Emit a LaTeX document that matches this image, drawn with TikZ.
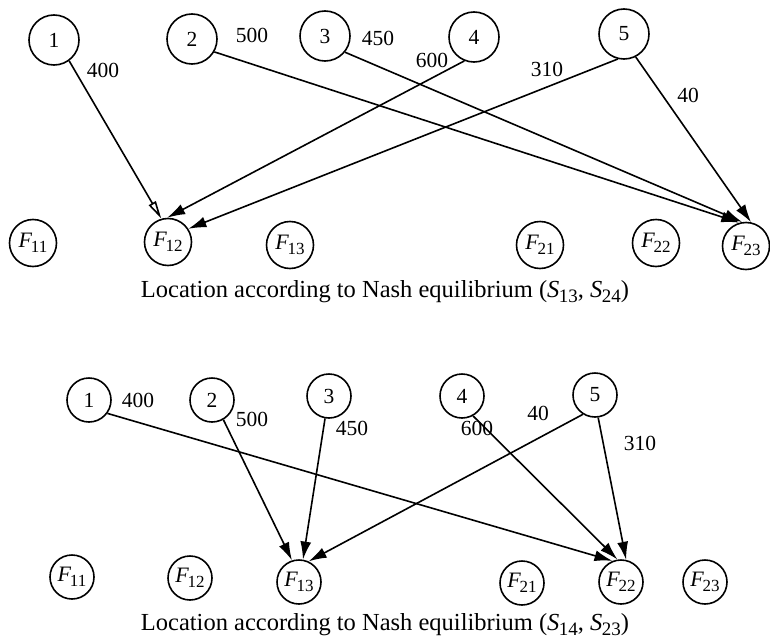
\documentclass[tikz,border=0pt]{standalone}
\usepackage{fontspec}
\setmainfont{Liberation Serif}
\usetikzlibrary{arrows.meta}
\newcommand\Fsub[1]{\textit{F}\kern-0.06em\raisebox{-0.45ex}{\fontsize{17}{17}\selectfont #1}}
\newcommand\Ssub[1]{\textit{S}\kern-0.02em\raisebox{-0.45ex}{\fontsize{19}{19}\selectfont #1}}
\begin{document}
\begin{tikzpicture}[x=1pt,y=-1pt,
 num/.style={circle,draw,line width=1.6pt,inner sep=0pt,minimum size=50pt,font=\fontsize{21.5}{23}\selectfont},
 numb/.style={num,minimum size=44pt},
 fac/.style={circle,draw,line width=1.6pt,inner sep=0pt,minimum size=47pt,font=\fontsize{22}{23}\selectfont},
 facb/.style={fac,minimum size=44pt},
 lab/.style={font=\fontsize{21.5}{23}\selectfont,inner sep=0pt},
 capt/.style={font=\fontsize{24.5}{27}\selectfont,inner sep=0pt},
 arr/.style={line width=1.6pt,-{Latex[length=18pt,width=11pt]}},
 oarr/.style={line width=1.6pt,-{Triangle[open,length=18pt,width=8pt]}}]
\useasboundingbox (0,0) rectangle (770,642);
% ---------- top diagram ----------
\node[num] (a1) at (54,40) {1};
\node[num] (a2) at (192,39) {2};
\node[num] (a3) at (325,36) {3};
\node[num] (a4) at (474,37) {4};
\node[num] (a5) at (624,34) {5};
\node[fac] (aF11) at (33,243) {\Fsub{11}};
\node[fac] (aF12) at (168,242) {\Fsub{12}};
\node[fac] (aF13) at (290,245) {\Fsub{13}};
\node[fac] (aF21) at (540,245) {\Fsub{21}};
\node[fac] (aF22) at (656,243) {\Fsub{22}};
\node[fac] (aF23) at (746,246) {\Fsub{23}};
\node[lab] (al1) at (103,70) {400};
\node[lab] (al2) at (252,35) {500};
\node[lab] (al3) at (378,38) {450};
\node[lab] (al4) at (432,60) {600};
\node[lab] (al5) at (547,69) {310};
\node[lab] (al6) at (688,95) {40};
\draw[oarr] (a1.306) -- (aF12.106);
\draw[arr] (a2.330) -- (aF23.106);
\draw[arr] (a3.321) -- (aF23.99);
\draw[arr] (a4.248) -- (aF12.92);
\draw[arr] (a5.256) -- (aF12.33);
\draw[arr] (a5.297) -- (aF23.78);
\node[capt] (acap) at (385,292) {Location according to Nash equilibrium (\Ssub{13}, \Ssub{24})};
% ---------- bottom diagram ----------
\node[numb] (b1) at (89,400) {1};
\node[numb] (b2) at (212,400) {2};
\node[numb] (b3) at (329,396) {3};
\node[numb] (b4) at (462,396) {4};
\node[numb] (b5) at (595,395) {5};
\node[facb] (bF11) at (72,577) {\Fsub{11}};
\node[facb] (bF12) at (190,578) {\Fsub{12}};
\node[facb] (bF13) at (299,582) {\Fsub{13}};
\node[facb] (bF21) at (522,583) {\Fsub{21}};
\node[facb] (bF22) at (621,582) {\Fsub{22}};
\node[facb] (bF23) at (705,582) {\Fsub{23}};
\node[lab] (bl1) at (138,400) {400};
\node[lab] (bl2) at (252,419) {500};
\node[lab] (bl3) at (352,428) {450};
\node[lab] (bl4) at (477,428) {600};
\node[lab] (bl5) at (538,413) {40};
\node[lab] (bl6) at (640,443) {310};
\draw[arr] (b1.324) -- (bF22.112);
\draw[arr] (b2.300) -- (bF13.108);
\draw[arr] (b3.260) -- (bF13.80);
\draw[arr] (b4.299) -- (bF22.99);
\draw[arr] (b5.238) -- (bF13.65);
\draw[arr] (b5.278) -- (bF22.77);
\node[capt] (bcap) at (385,625) {Location according to Nash equilibrium (\Ssub{14}, \Ssub{23})};
\end{tikzpicture}
\end{document}
